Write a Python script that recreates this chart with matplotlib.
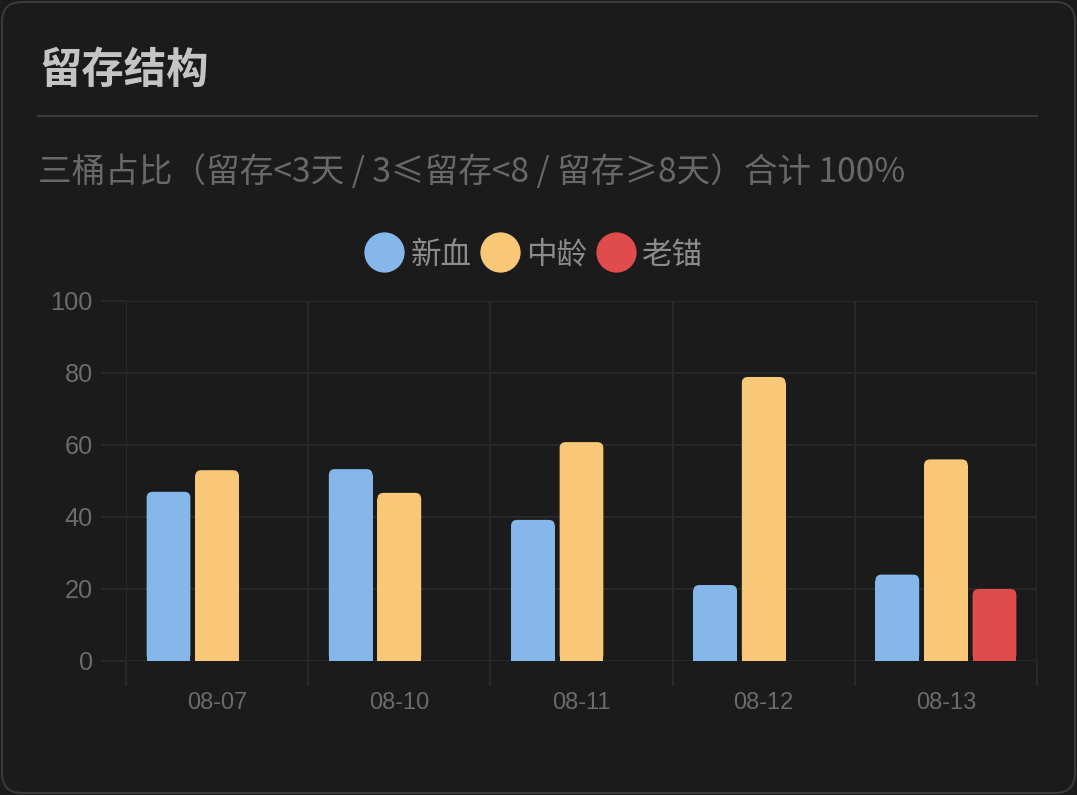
import matplotlib
matplotlib.use("Agg")
import matplotlib.pyplot as plt
import numpy as np
from matplotlib.patches import FancyBboxPatch
from matplotlib.lines import Line2D

plt.rcParams['font.family'] = ['Noto Sans CJK SC', 'DejaVu Sans']

# data
dates = ['08-07', '08-10', '08-11', '08-12', '08-13']
series_names = ['新血', '中龄', '老锚']
new_blood = [47, 53.3, 39.2, 21.1, 24]
middle_age = [53, 46.7, 60.8, 78.9, 56]
old_anchor = [0, 0, 0, 0, 20]
colors = ['#85b7ea', '#f8c777', '#e04b4b']

bg = '#1b1b1b'
grid_c = '#282828'
tick_c = '#6b6b6b'

W, H, DPI = 1077, 795, 100
fig = plt.figure(figsize=(W / DPI, H / DPI), dpi=DPI, facecolor=bg)

# card frame (behind everything)
card = FancyBboxPatch((0.02, 0.02), W / DPI - 0.04, H / DPI - 0.04,
                      boxstyle="round,pad=0,rounding_size=0.2",
                      transform=fig.dpi_scale_trans, facecolor=bg,
                      edgecolor='#3a3a3a', linewidth=1.5, zorder=-10)
fig.patches.append(card)

# title, separator, subtitle
fig.text(39 / W, 1 - 71 / H, '留存结构', fontsize=30.5, fontweight='bold',
         color='#c4c4c4', va='center', ha='left')
fig.add_artist(Line2D([38 / W, 1037 / W], [1 - 116 / H, 1 - 116 / H],
                      color='#3a3a3a', linewidth=1.5))
fig.text(38 / W, 1 - 173 / H, '三桶占比（留存<3天 / 3≤留存<8 / 留存≥8天）合计 100%',
         fontsize=24.2, color='#686868', va='center', ha='left')

# plot area
ax = fig.add_axes([126 / W, 1 - 661 / H, (1037 - 126) / W, (661 - 301) / H])
ax.set_facecolor('none')
for s in ax.spines.values():
    s.set_visible(False)

x = np.arange(len(dates))
ax.set_xlim(-0.5, len(dates) - 0.5)
ax.set_ylim(0, 100)

# rounded top corners: radius in pixels converted to data units
bbox = ax.get_position()
px_x = bbox.width * W / (len(dates))
px_y = bbox.height * H / 100
r_px = 6
rx = r_px / px_x
ry = r_px / px_y
aspect = ry / rx

slot = 0.8 / 3
bar_w = slot * 0.9
all_series = [new_blood, middle_age, old_anchor]
for i, (vals, c) in enumerate(zip(all_series, colors)):
    pos = x + (i - 1) * slot
    bars = ax.bar(pos, vals, width=bar_w, color=c, zorder=3)
    for b in bars:
        h = b.get_height()
        if h <= 0:
            continue
        b.set_height(max(h - ry, 0))
        ax.add_patch(FancyBboxPatch((b.get_x(), 0), b.get_width(), h,
                                    boxstyle=f"round,pad=0,rounding_size={rx}",
                                    mutation_aspect=aspect, facecolor=c,
                                    edgecolor='none', zorder=3))

# y axis
ax.set_yticks(np.arange(0, 101, 20))
ax.tick_params(axis='y', length=17, width=1.5, color=grid_c, pad=7,
               labelsize=18.3, labelcolor=tick_c)
ax.yaxis.grid(True, color=grid_c, linewidth=1.5, zorder=0)
for lab in ax.get_yticklabels():
    lab.set_fontfamily(['Liberation Sans', 'DejaVu Sans'])

# x axis: labels at centres, grid at boundaries
ax.set_xticks(x)
ax.set_xticklabels(dates)
ax.set_xticks(np.arange(-0.5, len(dates), 1), minor=True)
ax.tick_params(axis='x', which='major', length=0, pad=22, labelsize=17,
               labelcolor=tick_c)
ax.tick_params(axis='x', which='minor', length=18, width=1.5, color=grid_c)
ax.xaxis.grid(True, which='minor', color=grid_c, linewidth=1.5, zorder=0)
for lab in ax.get_xticklabels():
    lab.set_fontfamily(['Liberation Sans', 'DejaVu Sans'])
ax.set_axisbelow(True)

# legend
handles = [Line2D([], [], linestyle='none', marker='o', markersize=29,
                  markerfacecolor=c, markeredgecolor='none') for c in colors]
fig.legend(handles, series_names, loc='center', bbox_to_anchor=(534 / W, 1 - 255 / H),
           ncol=3, frameon=False, fontsize=22, labelcolor='#8c8c8c',
           handlelength=1.3, handletextpad=0.2, columnspacing=0.3,
           borderpad=0, handleheight=1.0)

fig.savefig('out.png', dpi=DPI, facecolor=bg)
